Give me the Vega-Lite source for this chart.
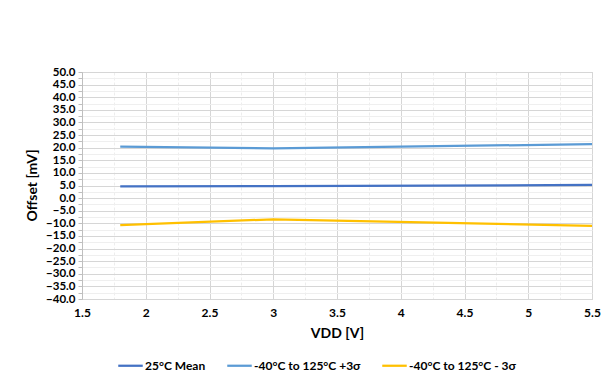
{
  "$schema": "https://vega.github.io/schema/vega-lite/v6.json",
  "width": 510,
  "height": 227,
  "autosize": "none",
  "padding": {"left": 82, "top": 72, "right": 17, "bottom": 79},
  "background": "white",
  "config": {
    "font": "Lato",
    "view": {"stroke": "#c8c8c8", "strokeWidth": 1}
  },
  "data": {
    "values": [
      {"vdd": 1.8, "offset": 4.7, "series": "25°C Mean"},
      {"vdd": 3.0, "offset": 4.8, "series": "25°C Mean"},
      {"vdd": 5.5, "offset": 5.2, "series": "25°C Mean"},
      {"vdd": 1.8, "offset": 20.4, "series": "-40°C to 125°C +3σ"},
      {"vdd": 3.0, "offset": 19.7, "series": "-40°C to 125°C +3σ"},
      {"vdd": 5.5, "offset": 21.4, "series": "-40°C to 125°C +3σ"},
      {"vdd": 1.8, "offset": -10.7, "series": "-40°C to 125°C - 3σ"},
      {"vdd": 3.0, "offset": -8.4, "series": "-40°C to 125°C - 3σ"},
      {"vdd": 5.5, "offset": -11.0, "series": "-40°C to 125°C - 3σ"}
    ]
  },
  "mark": {"type": "line", "strokeWidth": 2.25},
  "encoding": {
    "x": {
      "field": "vdd",
      "type": "quantitative",
      "scale": {"domain": [1.5, 5.5], "nice": false, "zero": false},
      "axis": {
        "values": [1.5, 1.75, 2, 2.25, 2.5, 2.75, 3, 3.25, 3.5, 3.75, 4, 4.25, 4.5, 4.75, 5, 5.25, 5.5],
        "labelExpr": "(datum.value * 2) % 1 === 0 ? '' + datum.value : ''",
        "title": "VDD [V]",
        "titleFont": "Lato",
        "titleFontSize": 14,
        "titleFontWeight": "bold",
        "titleColor": "#000000",
        "titleY": 34,
        "titleBaseline": "middle",
        "labelFont": "Lato",
        "labelFontSize": 12,
        "labelFontWeight": "bold",
        "labelColor": "#000000",
        "labelPadding": 8,
        "labelBaseline": "top",
        "labelOverlap": false,
        "labelFlush": false,
        "ticks": false,
        "domain": false,
        "grid": true,
        "gridColor": {"condition": {"test": "(datum.value * 2) % 1 === 0", "value": "#d6d6d6"}, "value": "#ededed"},
        "gridDash": {"condition": {"test": "(datum.value * 2) % 1 === 0", "value": []}, "value": [3, 2]},
        "gridWidth": 1
      }
    },
    "y": {
      "field": "offset",
      "type": "quantitative",
      "scale": {"domain": [-40, 50], "nice": false, "zero": false},
      "axis": {
        "values": [-40, -37.5, -35, -32.5, -30, -27.5, -25, -22.5, -20, -17.5, -15, -12.5, -10, -7.5, -5, -2.5, 0, 2.5, 5, 7.5, 10, 12.5, 15, 17.5, 20, 22.5, 25, 27.5, 30, 32.5, 35, 37.5, 40, 42.5, 45, 47.5, 50],
        "labelExpr": "datum.value % 5 === 0 ? format(datum.value, '.1f') : ''",
        "title": "Offset [mV]",
        "titleFont": "Lato",
        "titleFontSize": 14,
        "titleFontWeight": "bold",
        "titleColor": "#000000",
        "titleX": -50,
        "titleY": 113,
        "titleAngle": -90,
        "titleAlign": "center",
        "titleBaseline": "middle",
        "labelFont": "Lato",
        "labelFontSize": 11.5,
        "labelFontWeight": "bold",
        "labelColor": "#000000",
        "labelPadding": 3,
        "labelOverlap": false,
        "labelFlush": false,
        "ticks": true,
        "tickSize": 4,
        "tickColor": "#bfbfbf",
        "domain": true,
        "domainColor": "#bfbfbf",
        "grid": true,
        "gridColor": {"condition": {"test": "datum.value % 5 === 0", "value": "#d6d6d6"}, "value": "#efefef"},
        "gridWidth": 1
      }
    },
    "color": {
      "field": "series",
      "type": "nominal",
      "scale": {
        "domain": ["25°C Mean", "-40°C to 125°C +3σ", "-40°C to 125°C - 3σ"],
        "range": ["#4472C4", "#5B9BD5", "#FFC000"]
      },
      "legend": {
        "title": null,
        "orient": "none",
        "legendX": 35,
        "legendY": 280,
        "direction": "horizontal",
        "symbolType": "stroke",
        "symbolSize": 600,
        "symbolStrokeWidth": 2.25,
        "labelFont": "Lato",
        "labelFontSize": 12,
        "labelFontWeight": "bold",
        "labelColor": "#000000",
        "labelOffset": 1,
        "columnPadding": 16,
        "labelLimit": 300
      }
    }
  }
}
